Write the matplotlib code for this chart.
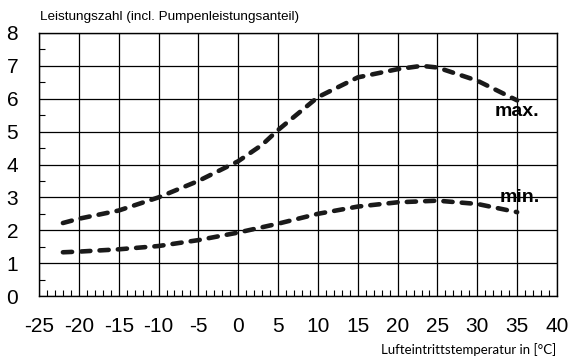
import matplotlib.pyplot as plt
import numpy as np

# Leistungszahl über Lufteintrittstemperatur
temp_max = [-22, -20, -15, -10, -5, 0, 3, 5, 10, 15, 20, 23, 25, 30, 35]
cop_max = [2.22, 2.35, 2.6, 3.0, 3.5, 4.1, 4.6, 5.05, 6.05, 6.65, 6.9, 7.0, 6.95, 6.55, 5.95]
temp_min = [-22, -20, -15, -10, -5, 0, 5, 10, 15, 20, 25, 30, 35]
cop_min = [1.33, 1.35, 1.42, 1.52, 1.7, 1.93, 2.2, 2.5, 2.72, 2.85, 2.9, 2.8, 2.55]

x_ticks = np.arange(-25, 41, 5)
y_ticks = np.arange(0, 9, 1)

plt.rcParams['font.family'] = 'Liberation Sans'

fig = plt.figure(figsize=(5.71, 3.58), dpi=100)
ax = fig.add_axes([39 / 571, 62 / 358, 518 / 571, 263 / 358])

for xs, ys in [(temp_max, cop_max), (temp_min, cop_min)]:
    ax.plot(xs, ys, color='#1a1a1a', lw=3.3, dashes=(2.0, 2.0),
            dash_capstyle='round')

ax.text(35.0, 5.6, 'max.', fontsize=14, fontweight='bold', ha='center', va='center')
ax.text(35.3, 3.0, 'min.', fontsize=14, fontweight='bold', ha='center', va='center')

ax.set_xlim(-25, 40)
ax.set_ylim(0, 8)
ax.set_xticks(x_ticks)
ax.set_yticks(y_ticks)
ax.set_xticks(np.arange(-25, 41, 1), minor=True)
ax.set_yticks(np.arange(0.5, 8, 1), minor=True)
ax.set_xticklabels([str(t) for t in x_ticks], fontsize=15)
ax.set_yticklabels([str(t) for t in y_ticks], fontsize=15)
ax.tick_params(axis='x', which='major', length=0, pad=15)
ax.tick_params(axis='y', which='major', length=0, pad=15)
ax.tick_params(axis='x', which='minor', direction='in', length=4, width=0.8)
ax.tick_params(axis='y', which='minor', direction='in', length=4, width=0.8)

ax.grid(True, which='major', color='black', lw=0.9)
for s in ax.spines.values():
    s.set_linewidth(1.0)

fig.text(40 / 571, 1 - 17 / 358, 'Leistungszahl (incl. Pumpenleistungsanteil)',
         fontsize=9.7, va='center', ha='left')
fig.text(556 / 571, 1 - 350 / 358, 'Lufteintrittstemperatur in [°C]',
         fontsize=9.5, family='Lato', va='center', ha='right')

plt.savefig('out.png', dpi=100)
